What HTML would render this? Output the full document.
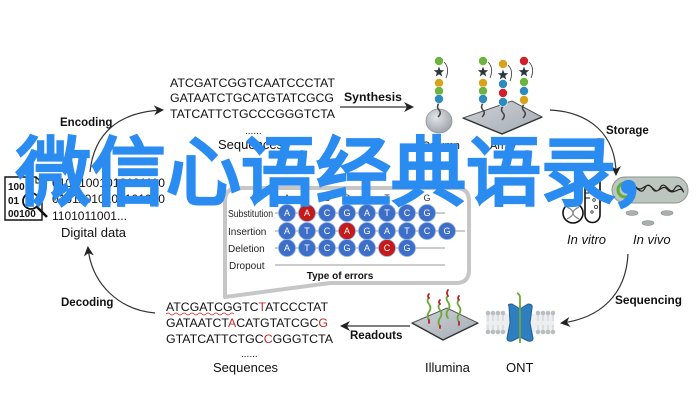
<!DOCTYPE html>
<html><head><meta charset="utf-8"><style>
html,body{margin:0;padding:0;background:#fff;}
svg{display:block;}
text{font-family:"Liberation Sans",Arial,sans-serif;}
</style></head><body>
<svg width="700" height="401" viewBox="0 0 700 401" xmlns="http://www.w3.org/2000/svg">
<defs>
<marker id="ah" viewBox="0 0 10 10" refX="8" refY="5" markerUnits="userSpaceOnUse" markerWidth="10" markerHeight="10" orient="auto"><path d="M0,0 L10,5 L0,10 L3,5z" fill="#222"/></marker>
<polygon id="star" points="0,-5.5 1.35,-1.86 5.23,-1.7 2.19,0.71 3.23,4.45 0,2.3 -3.23,4.45 -2.19,0.71 -5.23,-1.7 -1.35,-1.86" fill="#2b3640"/>
<radialGradient id="sph" cx="0.4" cy="0.35" r="0.7"><stop offset="0" stop-color="#e3e6e9"/><stop offset="1" stop-color="#9aa1a8"/></radialGradient>
<linearGradient id="plate" x1="0" y1="0" x2="1" y2="1"><stop offset="0" stop-color="#cfd3d8"/><stop offset="1" stop-color="#a4abb3"/></linearGradient>
</defs>

<!-- ===== Top sequences ===== -->
<g font-size="12" fill="#111">
<text x="170" y="87" textLength="165" lengthAdjust="spacingAndGlyphs">ATCGATCGGTCAATCCCTAT</text>
<text x="170" y="102" textLength="164" lengthAdjust="spacingAndGlyphs">GATAATCTGCATGTATCGCG</text>
<text x="170" y="118" textLength="165" lengthAdjust="spacingAndGlyphs">TATCATTCTGCCCGGGTCTA</text>
<text x="245" y="134" font-size="10">......</text>
<text x="218" y="149" font-size="13">Sequences</text>
</g>

<!-- Encoding -->
<text x="60" y="126" font-size="11.5" font-weight="bold" fill="#111">Encoding</text>
<path d="M90,172 C94,132 120,112 162,110" fill="none" stroke="#333" stroke-width="1.2" marker-end="url(#ah)"/>

<!-- Synthesis -->
<text x="344" y="101" font-size="12" font-weight="bold" fill="#111" textLength="58" lengthAdjust="spacingAndGlyphs">Synthesis</text>
<line x1="340" y1="107" x2="412" y2="107" stroke="#333" stroke-width="1.2" marker-end="url(#ah)"/>

<!-- Column -->
<ellipse cx="439" cy="121" rx="13" ry="12" fill="url(#sph)" stroke="#8d9399" stroke-width="0.8"/>
<path d="M439,103 q-3,4 0,7 q3,3 -1,7" fill="none" stroke="#444" stroke-width="1.5"/>
<g stroke="#fff" stroke-width="0.6">
<circle cx="439" cy="61" r="4.5" fill="#6db33f"/>
<circle cx="439" cy="83" r="4.5" fill="#d9a21b"/>
<circle cx="439" cy="91" r="4.5" fill="#6db33f"/>
<circle cx="439" cy="99" r="4.5" fill="#2e8bc0"/>
</g>
<use href="#star" x="439" y="72"/>
<path d="M444,62 q6,6 2,16" fill="none" stroke="#333" stroke-width="0.8"/>
<text x="422" y="149" font-size="11" fill="#111">Column</text>

<!-- Array plate -->
<polygon points="463,118 512,101 542,117 502,134" fill="url(#plate)" stroke="#555" stroke-width="1"/>
<path d="M463,118 L502,134 L542,117" fill="none" stroke="#333" stroke-width="1.4"/>
<g fill="none" stroke="#444" stroke-width="1.5">
<path d="M483,103 q-3,4 0,7 q3,3 -1,7"/>
<path d="M503,106 q-3,4 0,7 q3,3 -1,7"/>
<path d="M524,104 q-3,4 0,7 q3,3 -1,7"/>
</g>
<g stroke="#fff" stroke-width="0.6">
<circle cx="483" cy="61" r="4.5" fill="#6db33f"/>
<circle cx="483" cy="83" r="4.5" fill="#d9a21b"/>
<circle cx="483" cy="91" r="4.5" fill="#6db33f"/>
<circle cx="483" cy="99" r="4.5" fill="#2e8bc0"/>
<circle cx="503" cy="64" r="4.5" fill="#d9a21b"/>
<circle cx="503" cy="84" r="4.5" fill="#2e8bc0"/>
<circle cx="503" cy="93" r="4.5" fill="#d0202a"/>
<circle cx="503" cy="102" r="4.5" fill="#2e8bc0"/>
<circle cx="524" cy="61" r="4.5" fill="#d0202a"/>
<circle cx="524" cy="82" r="4.5" fill="#6db33f"/>
<circle cx="524" cy="91" r="4.5" fill="#2e8bc0"/>
<circle cx="524" cy="100" r="4.5" fill="#d9a21b"/>
</g>
<use href="#star" x="483" y="72"/>
<use href="#star" x="503" y="75"/>
<use href="#star" x="524" y="72"/>
<g fill="none" stroke="#333" stroke-width="0.8">
<path d="M488,62 q6,6 2,16"/>
<path d="M508,65 q6,6 2,16"/>
<path d="M529,62 q6,6 2,16"/>
</g>
<text x="490" y="149" font-size="11" fill="#111">Array</text>

<!-- Storage -->
<path d="M550,110 C590,112 616,135 616,174" fill="none" stroke="#333" stroke-width="1.2" marker-end="url(#ah)"/>
<text x="606" y="134" font-size="11.5" font-weight="bold" fill="#111">Storage</text>

<!-- In vitro -->
<path d="M585,177 V215 a7.5,7.5 0 0 0 15,0 V177" fill="#fff" stroke="#111" stroke-width="1.6"/>
<g stroke="#111" stroke-width="1"><line x1="585" y1="183" x2="590" y2="183"/><line x1="585" y1="188" x2="590" y2="188"/><line x1="585" y1="193" x2="590" y2="193"/><line x1="585" y1="198" x2="590" y2="198"/></g>
<g fill="none" stroke="#333" stroke-width="0.8"><circle cx="594" cy="200" r="1.3"/><circle cx="596" cy="207" r="1.6"/><circle cx="592" cy="212" r="1.2"/></g>
<circle cx="573" cy="213" r="10" fill="#fff" stroke="#111" stroke-width="1.6"/>
<path d="M567,219 q6,-3 6,-6 q0,-3 6,-6 M567,207 q6,3 6,6 q0,3 6,6" fill="none" stroke="#888" stroke-width="1.3"/>
<text x="567" y="244" font-size="13" font-style="italic" fill="#111">In vitro</text>

<!-- In vivo -->
<rect x="612" y="177" width="76" height="26" rx="13" fill="#bcc6bf" stroke="#8a948e" stroke-width="1"/>
<circle cx="625" cy="190" r="7" fill="none" stroke="#5fae3a" stroke-width="3"/>
<path d="M630,190 c5,-10 10,8 15,-2 c5,-10 10,10 15,0 c5,-10 10,10 15,0 c5,-8 10,8 8,3 c-3,-6 -10,6 -16,-2 c-5,-6 -10,8 -15,-1 c-6,-8 -10,6 -16,-1 c-5,-6 -7,4 -6,3" fill="none" stroke="#222" stroke-width="1.2"/>
<g fill="#a9b0ab" stroke="#8a908c" stroke-width="0.6">
<ellipse cx="632" cy="213" rx="6" ry="2.5"/><ellipse cx="667" cy="213" rx="6" ry="2.5"/><ellipse cx="648" cy="223" rx="6" ry="2.5"/>
</g>
<text x="633" y="244" font-size="13" font-style="italic" fill="#111">In vivo</text>

<!-- Sequencing -->
<path d="M628,254 C626,295 600,318 562,323" fill="none" stroke="#333" stroke-width="1.2" marker-end="url(#ah)"/>
<text x="615" y="304" font-size="11.5" font-weight="bold" fill="#111" textLength="67" lengthAdjust="spacingAndGlyphs">Sequencing</text>

<!-- ONT -->
<rect x="486" y="314" width="68" height="18" fill="#eceef0"/>
<g stroke="#c2c6ca" stroke-width="0.8">
<path d="M488,314v7M493,314v7M498,314v7M503,314v7M538,314v7M543,314v7M548,314v7M553,314v7M488,325v7M493,325v7M498,325v7M503,325v7M538,325v7M543,325v7M548,325v7M553,325v7"/>
</g>
<g fill="#b9bec3">
<circle cx="488" cy="313" r="2.3"/><circle cx="493" cy="313" r="2.3"/><circle cx="498" cy="313" r="2.3"/><circle cx="503" cy="313" r="2.3"/><circle cx="538" cy="313" r="2.3"/><circle cx="543" cy="313" r="2.3"/><circle cx="548" cy="313" r="2.3"/><circle cx="553" cy="313" r="2.3"/>
<circle cx="488" cy="332" r="2.3"/><circle cx="493" cy="332" r="2.3"/><circle cx="498" cy="332" r="2.3"/><circle cx="503" cy="332" r="2.3"/><circle cx="538" cy="332" r="2.3"/><circle cx="543" cy="332" r="2.3"/><circle cx="548" cy="332" r="2.3"/><circle cx="553" cy="332" r="2.3"/>
</g>
<path d="M509,306 Q507,304 512,304 L520,309 L528,304 Q533,304 532,308 L530,323 L533,338 Q533,342 528,341 L520,337 L512,341 Q507,342 507,338 L510,323 Z" fill="#2f7fc0" stroke="#1d5f99" stroke-width="1"/>
<path d="M520,343 V298 q0,-4 -3,-5" fill="none" stroke="#6aa838" stroke-width="1.8"/>
<text x="506" y="372" font-size="13" fill="#111">ONT</text>

<!-- Illumina -->
<polygon points="412,323 447,308 478,323 443,340" fill="url(#plate)" stroke="#555" stroke-width="1"/>
<path d="M412,323 L443,340 L478,323" fill="none" stroke="#333" stroke-width="1.4"/>
<g fill="none" stroke-width="1.8" stroke-linecap="round">
<path d="M429,320 q-3,-4 0,-8 q3,-4 0,-8 q-3,-4 0,-6" stroke="#6aa838"/><path d="M429,298 q-2,-2 0,-4" stroke="#c0202a"/>
<path d="M440,326 q-3,-4 0,-8 q3,-4 0,-8 q-3,-4 0,-6" stroke="#6aa838"/><path d="M440,304 q-2,-2 0,-4" stroke="#c0202a"/>
<path d="M448,318 q-3,-4 0,-8 q3,-4 0,-8 q-3,-4 0,-6" stroke="#6aa838"/><path d="M448,296 q-2,-3 0,-6" stroke="#c0202a"/>
<path d="M459,322 q-3,-4 0,-8 q3,-4 0,-8 q-3,-4 0,-6" stroke="#6aa838"/><path d="M459,300 q-2,-2 0,-4" stroke="#c0202a"/>
<path d="M429,320 v3 M440,326 v2 M459,322 v3" stroke="#c0202a"/>
</g>
<text x="425" y="372" font-size="13" fill="#111">Illumina</text>

<!-- Readouts -->
<line x1="410" y1="326" x2="342" y2="326" stroke="#333" stroke-width="1.2" marker-end="url(#ah)"/>
<text x="350" y="339" font-size="11.5" font-weight="bold" fill="#111">Readouts</text>

<!-- Bottom sequences -->
<g font-size="12" fill="#111">
<text x="166" y="311" textLength="162" lengthAdjust="spacingAndGlyphs">ATCGATCGGTC<tspan fill="#c62828">T</tspan>ATCCCTAT</text>
<text x="166" y="327" textLength="162" lengthAdjust="spacingAndGlyphs">GATAATCT<tspan fill="#c62828">A</tspan>CATGTATCGC<tspan fill="#c62828">G</tspan></text>
<text x="166" y="343" textLength="167" lengthAdjust="spacingAndGlyphs">GTATCATTCTGC<tspan fill="#c62828">C</tspan>GGGTCTA</text>
<text x="241" y="357" font-size="10">......</text>
<text x="213" y="372" font-size="13">Sequences</text>
</g>
<path d="M166,314 q2,-2 4,0 t4,0 t4,0 t4,0 t4,0 t4,0 t4,0 t4,0 t4,0 t4,0 t4,0 t4,0 t4,0 t4,0 t4,0 t4,0 t4,0" fill="none" stroke="#c62828" stroke-width="0.7"/>

<!-- Decoding -->
<path d="M155,313 C120,310 92,285 88,248" fill="none" stroke="#333" stroke-width="1.2" marker-end="url(#ah)"/>
<text x="61" y="306" font-size="11.5" font-weight="bold" fill="#111">Decoding</text>

<!-- Digital data icon -->
<path d="M5,177 H36 L42,183 V220 H5 Z" fill="#fff" stroke="#111" stroke-width="1.4"/>
<path d="M36,177 V183 H42" fill="none" stroke="#111" stroke-width="1"/>
<g font-family="Liberation Mono, monospace" font-weight="bold" font-size="10" fill="#111">
<text x="8" y="190">100</text><text x="8" y="204">01</text><text x="8" y="217">00100</text>
</g>
<circle cx="31" cy="201" r="8" fill="#fff" fill-opacity="0.6" stroke="#111" stroke-width="1.8"/>
<line x1="37" y1="207" x2="47" y2="217" stroke="#111" stroke-width="2.6"/>
<g font-size="12" fill="#111">
<text x="52" y="187" textLength="113" lengthAdjust="spacingAndGlyphs">01001001010101110</text>
<text x="52" y="203" textLength="113" lengthAdjust="spacingAndGlyphs">01011010100101010</text>
<text x="52" y="220">1101011001...</text>
<text x="61" y="237" font-size="13">Digital data</text>
</g>

<!-- Error box -->
<path d="M238,188 H456 Q469,188 469,201 V270 Q469,283 456,283 H330 L225,297 V201 Q225,188 238,188 Z" fill="#fff" stroke="#c6c6c6" stroke-width="4" stroke-linejoin="round"/>
<g font-size="9" fill="#333" text-anchor="middle">
<text x="287" y="201">A</text><text x="307" y="201">T</text><text x="327" y="201">C</text><text x="347" y="201">G</text><text x="367" y="201">A</text><text x="387" y="201">T</text><text x="407" y="201">C</text><text x="427" y="201">G</text>
</g>
<g font-size="10" fill="#222">
<text x="228" y="217" textLength="45" lengthAdjust="spacingAndGlyphs">Substitution</text>
<text x="228" y="235">Insertion</text>
<text x="228" y="252">Deletion</text>
<text x="229" y="269">Dropout</text>
</g>
<g stroke="#9a9a9a" stroke-width="1">
<line x1="275" y1="213" x2="445" y2="213"/>
<line x1="275" y1="231" x2="465" y2="231"/>
<line x1="275" y1="248" x2="445" y2="248"/>
<line x1="275" y1="265" x2="445" y2="265"/>
</g>
<g stroke="#8fb0e6" stroke-width="0.8">
<circle cx="287" cy="213" r="8.5" fill="#3d6fc9"/><circle cx="307" cy="213" r="8.5" fill="#c41a1a"/><circle cx="327" cy="213" r="8.5" fill="#3d6fc9"/><circle cx="347" cy="213" r="8.5" fill="#3d6fc9"/><circle cx="367" cy="213" r="8.5" fill="#3d6fc9"/><circle cx="387" cy="213" r="8.5" fill="#3d6fc9"/><circle cx="407" cy="213" r="8.5" fill="#3d6fc9"/><circle cx="427" cy="213" r="8.5" fill="#3d6fc9"/>
<circle cx="287" cy="231" r="8.5" fill="#3d6fc9"/><circle cx="307" cy="231" r="8.5" fill="#3d6fc9"/><circle cx="327" cy="231" r="8.5" fill="#3d6fc9"/><circle cx="347" cy="231" r="8.5" fill="#c41a1a"/><circle cx="367" cy="231" r="8.5" fill="#3d6fc9"/><circle cx="387" cy="231" r="8.5" fill="#3d6fc9"/><circle cx="407" cy="231" r="8.5" fill="#3d6fc9"/><circle cx="427" cy="231" r="8.5" fill="#3d6fc9"/><circle cx="447" cy="231" r="8.5" fill="#3d6fc9"/>
<circle cx="287" cy="248" r="8.5" fill="#3d6fc9"/><circle cx="307" cy="248" r="8.5" fill="#3d6fc9"/><circle cx="327" cy="248" r="8.5" fill="#3d6fc9"/><circle cx="347" cy="248" r="8.5" fill="#3d6fc9"/><circle cx="367" cy="248" r="8.5" fill="#3d6fc9"/><circle cx="387" cy="248" r="8.5" fill="#c41a1a"/><circle cx="407" cy="248" r="8.5" fill="#3d6fc9"/>
</g>
<g font-size="9" fill="#fff" text-anchor="middle">
<text x="287" y="216">A</text><text x="307" y="216">A</text><text x="327" y="216">C</text><text x="347" y="216">G</text><text x="367" y="216">A</text><text x="387" y="216">T</text><text x="407" y="216">C</text><text x="427" y="216">G</text>
<text x="287" y="234">A</text><text x="307" y="234">T</text><text x="327" y="234">C</text><text x="347" y="234">A</text><text x="367" y="234">G</text><text x="387" y="234">A</text><text x="407" y="234">T</text><text x="427" y="234">C</text><text x="447" y="234">G</text>
<text x="287" y="251">A</text><text x="307" y="251">T</text><text x="327" y="251">C</text><text x="347" y="251">G</text><text x="367" y="251">A</text><text x="387" y="251">C</text><text x="407" y="251">G</text>
</g>
<text x="340" y="279" font-size="10" font-weight="bold" fill="#111" text-anchor="middle">Type of errors</text>

<!-- Overlay title -->
<text x="16" y="199" font-family="'Noto Sans CJK SC','WenQuanYi Zen Hei',sans-serif" font-size="75" font-weight="bold" fill="#2a8cf0" stroke="#2a8cf0" stroke-width="1">微信心语经典语录<tspan dx="-6">，</tspan></text>
</svg>
</body></html>
